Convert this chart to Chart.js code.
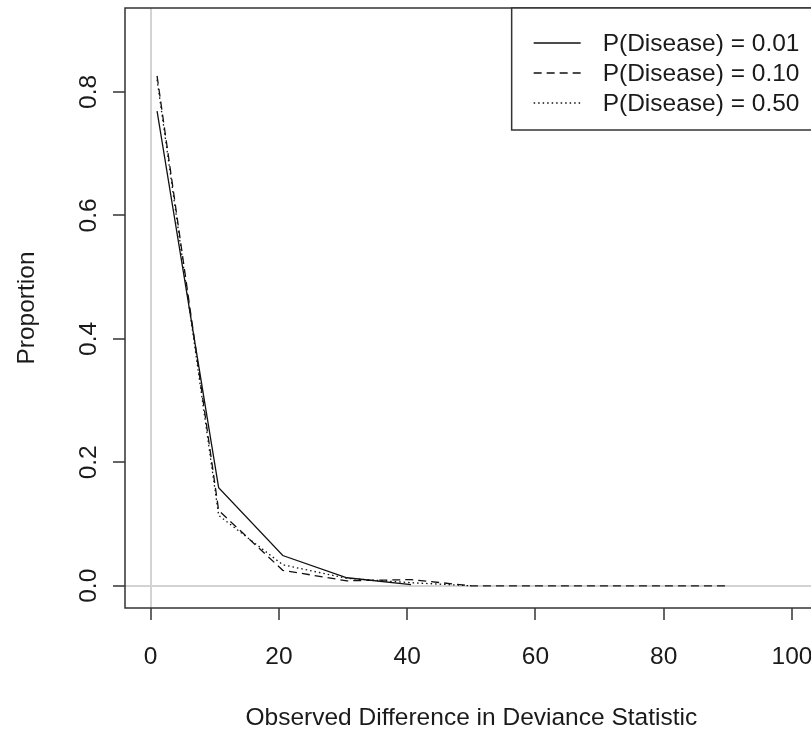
<!DOCTYPE html>
<html>
<head>
<meta charset="utf-8">
<script src="https://cdn.jsdelivr.net/npm/chart.js@4.4.1/dist/chart.umd.min.js"></script>
<style>
  html, body { margin: 0; padding: 0; background: #fff; overflow: hidden; }
  canvas { display: block; }
</style>
</head>
<body>
<canvas id="devianceChart" width="836" height="733"></canvas>
<script>
// tick labels
const xTicks = [0, 20, 40, 60, 80, 100];
const yTicks = [0, 0.2, 0.4, 0.6, 0.8];

// series
const seriesNames = ['P(Disease) = 0.01', 'P(Disease) = 0.10', 'P(Disease) = 0.50'];
const x001 = [1, 10.6, 20.6, 30.6, 40.6];
const y001 = [0.769, 0.159, 0.049, 0.013, 0.002];
const x010 = [1, 10.6, 20.6, 30.6, 40.6, 50, 60, 70, 80, 90];
const y010 = [0.826, 0.122, 0.025, 0.008, 0.010, 0, 0, 0, 0, 0];
const x050 = [1, 10.6, 20.6, 30.6, 40.6, 50];
const y050 = [0.820, 0.114, 0.034, 0.012, 0.005, 0];

const FONT = 'Liberation Sans, Arial, Helvetica, sans-serif';
const TEXT = '#1a1a1a';
const AXIS = '#333333';

function pts(xs, ys) {
    return xs.map((x, i) => ({ x: x, y: ys[i] }));
}

const dashes = [[], [8, 5], [1.5, 3]];

const rFrame = {
    id: 'rFrame',
    afterDraw(chart) {
        const ctx = chart.ctx;
        const a = chart.chartArea;
        ctx.save();
        // plot box
        ctx.strokeStyle = AXIS;
        ctx.lineWidth = 1.5;
        ctx.strokeRect(a.left, a.top, a.right - a.left, a.bottom - a.top);

        // rotated y tick labels, R style
        const ys = chart.scales.y;
        ctx.fillStyle = TEXT;
        ctx.font = '24.5px ' + FONT;
        ctx.textAlign = 'center';
        ctx.textBaseline = 'middle';
        yTicks.forEach(v => {
            const py = ys.getPixelForValue(v);
            ctx.save();
            ctx.translate(89, py);
            ctx.rotate(-Math.PI / 2);
            ctx.fillText(v.toFixed(1), 0, 0);
            ctx.restore();
        });

        // legend box in the top right corner
        const w = 306, h = 122;
        const lx = a.right - w, ly = a.top;
        ctx.fillStyle = '#fff';
        ctx.fillRect(lx, ly, w, h);
        ctx.strokeStyle = AXIS;
        ctx.lineWidth = 1.5;
        ctx.strokeRect(lx, ly, w, h);
        ctx.textAlign = 'left';
        chart.data.datasets.forEach((ds, i) => {
            const ry = ly + 35 + i * 30;
            ctx.strokeStyle = '#111';
            ctx.lineWidth = 1.3;
            ctx.setLineDash(ds.borderDash || []);
            ctx.beginPath();
            ctx.moveTo(lx + 22, ry);
            ctx.lineTo(lx + 69, ry);
            ctx.stroke();
            ctx.setLineDash([]);
            ctx.fillStyle = TEXT;
            ctx.fillText(ds.label, lx + 91, ry + 1);
        });
        ctx.restore();
    }
};

const zeroGrid = ctx => (ctx.tick && ctx.tick.value === 0) ? '#d3d3d3' : 'rgba(0,0,0,0)';

new Chart(document.getElementById('devianceChart').getContext('2d'), {
    type: 'line',
    data: {
        datasets: [
            { label: seriesNames[0], data: pts(x001, y001), borderDash: dashes[0] },
            { label: seriesNames[1], data: pts(x010, y010), borderDash: dashes[1] },
            { label: seriesNames[2], data: pts(x050, y050), borderDash: dashes[2] }
        ].map(d => Object.assign(d, {
            borderColor: '#111',
            borderWidth: 1.3,
            pointRadius: 0,
            fill: false,
            tension: 0
        }))
    },
    options: {
        responsive: false,
        animation: false,
        devicePixelRatio: 1,
        layout: { padding: { left: 0, right: 15, top: 8, bottom: 0 } },
        plugins: {
            legend: { display: false },
            tooltip: { enabled: false }
        },
        scales: {
            x: {
                type: 'linear',
                min: -4,
                max: 104,
                afterBuildTicks: s => { s.ticks = xTicks.map(v => ({ value: v })); },
                afterFit: s => { s.height = 125; },
                grid: { color: zeroGrid, lineWidth: 2, tickColor: AXIS, tickWidth: 1.5, tickLength: 12 },
                border: { display: false },
                ticks: { color: TEXT, font: { family: FONT, size: 24.5 }, padding: 23, maxRotation: 0 },
                title: {
                    display: true,
                    text: 'Observed Difference in Deviance Statistic',
                    color: TEXT,
                    font: { family: FONT, size: 24.5 },
                    padding: { top: 0, bottom: 0 }
                }
            },
            y: {
                type: 'linear',
                min: -0.036,
                max: 0.936,
                afterBuildTicks: s => { s.ticks = yTicks.map(v => ({ value: v })); },
                afterFit: s => { s.width = 125; },
                grid: { color: zeroGrid, lineWidth: 2, tickColor: AXIS, tickWidth: 1.5, tickLength: 12 },
                border: { display: false },
                ticks: { display: false },
                title: {
                    display: true,
                    text: 'Proportion',
                    color: TEXT,
                    font: { family: FONT, size: 24.5 },
                    padding: { top: 13, bottom: 0 }
                }
            }
        }
    },
    plugins: [rFrame]
});
</script>
</body>
</html>
